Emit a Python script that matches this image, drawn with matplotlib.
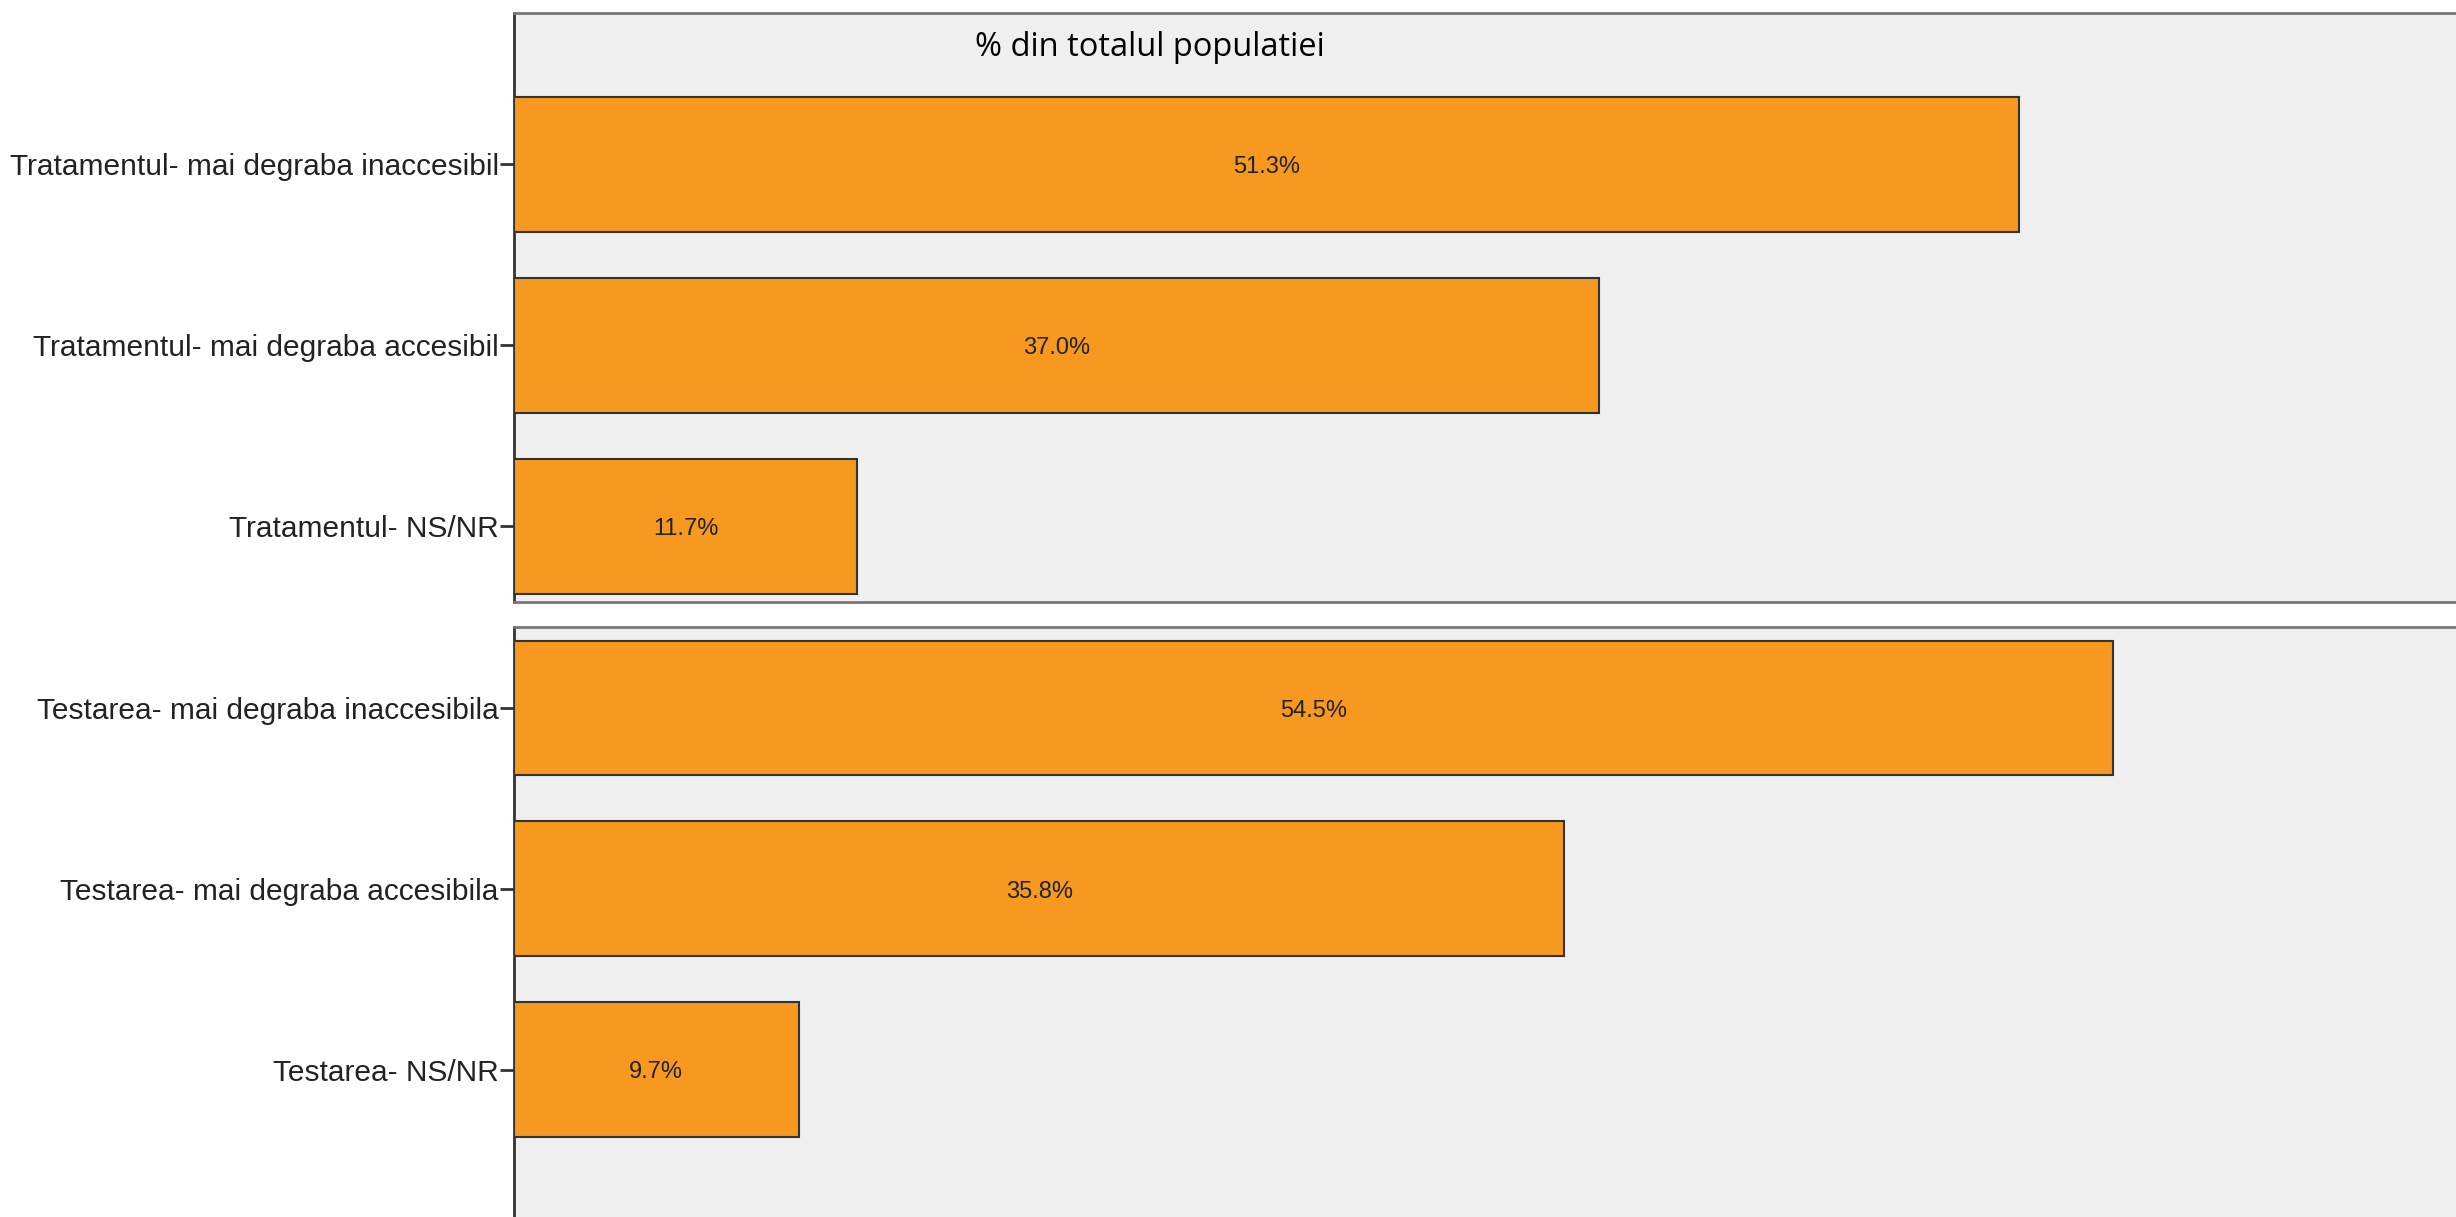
import matplotlib
matplotlib.use("Agg")
import matplotlib.pyplot as plt

categories_top = ["Tratamentul- mai degraba inaccesibil",
                  "Tratamentul- mai degraba accesibil",
                  "Tratamentul- NS/NR"]
values_top = [51.3, 37.0, 11.7]

categories_bottom = ["Testarea- mai degraba inaccesibila",
                     "Testarea- mai degraba accesibila",
                     "Testarea- NS/NR"]
values_bottom = [54.5, 35.8, 9.7]

title_text = "% din totalul populatiei"

W, H = 2456, 1217
fig = plt.figure(figsize=(W / 100, H / 100), dpi=100)
fig.patch.set_facecolor("white")

left = 514 / W
ax_top = fig.add_axes([left, 1 - 601.5 / H, 1.0 - left, (601.5 - 12.5) / H])
ax_bot = fig.add_axes([left, 0.0, 1.0 - left, (1217 - 626.5) / H])

bar_color = "#F8991F"
edge_color = "#333333"
panel_bg = "#EFEFEF"
label_font = ["Liberation Sans", "DejaVu Sans"]

def draw_panel(ax, cats, vals, ylim, show_bottom):
    ypos = list(range(len(cats)))
    ax.set_facecolor(panel_bg)
    ax.barh(ypos, vals, height=0.745, color=bar_color, edgecolor=edge_color,
            linewidth=1.5, zorder=3)
    ax.set_xlim(0, 66.2)
    ax.set_ylim(*ylim)
    ax.set_yticks(ypos)
    ax.set_yticklabels(cats, family=label_font, fontsize=21.5, color="#222222")
    ax.tick_params(axis="y", length=10, width=2, color="#333333", pad=1)
    ax.set_xticks([])
    ax.spines["right"].set_visible(False)
    ax.spines["bottom"].set_visible(show_bottom)
    ax.spines["left"].set_color("#333333")
    ax.spines["left"].set_linewidth(2)
    ax.spines["top"].set_color("#777777")
    ax.spines["top"].set_linewidth(2)
    ax.spines["bottom"].set_color("#777777")
    ax.spines["bottom"].set_linewidth(2)
    for y, v in zip(ypos, vals):
        ax.text(v / 2, y + 0.015, f"{v:.1f}%", ha="center", va="center",
                family=label_font, fontsize=17, color="#222222", zorder=4)

draw_panel(ax_top, categories_top, values_top, (2.416, -0.84), True)
draw_panel(ax_bot, categories_bottom, values_bottom, (2.814, -0.45), False)

fig.text(1150 / W, 1 - 47 / H, title_text, ha="center", va="center",
         family=["Open Sans", "DejaVu Sans"], fontsize=23.5, color="black")

fig.savefig("out.png", dpi=100, facecolor="white")
